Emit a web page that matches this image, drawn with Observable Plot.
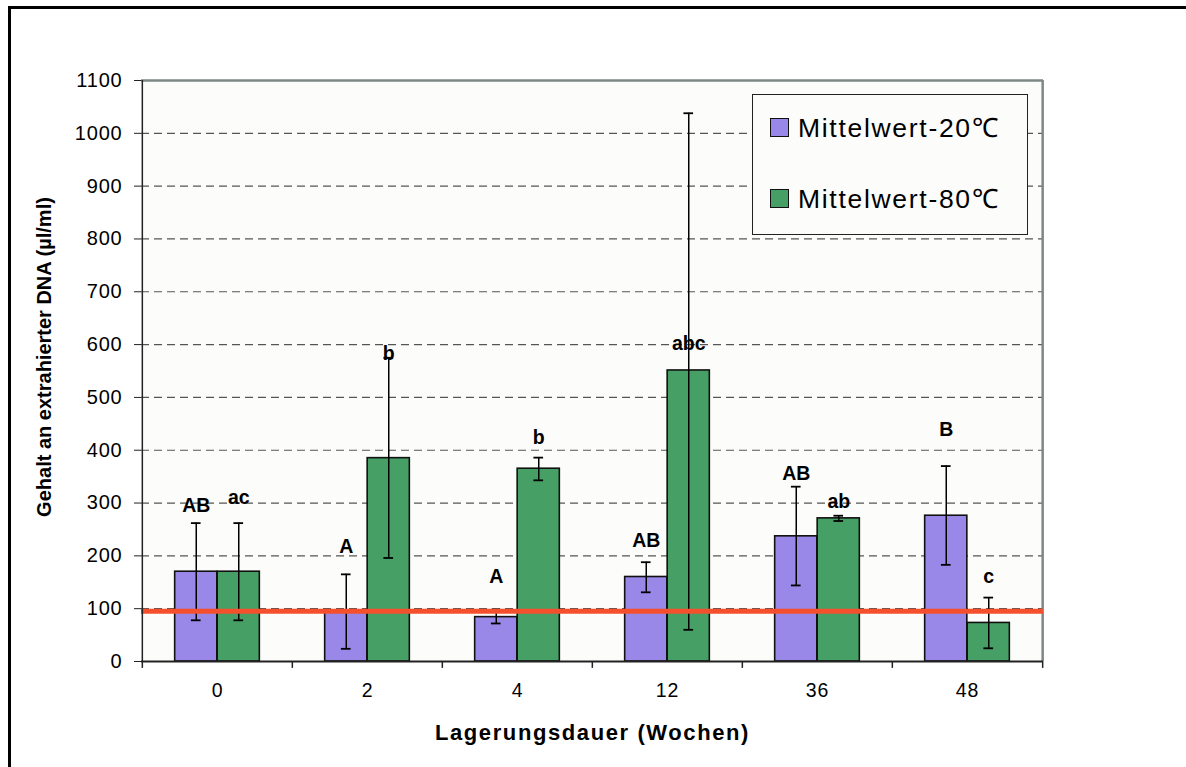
<!DOCTYPE html>
<html><head><meta charset="utf-8">
<script src="https://cdn.jsdelivr.net/npm/d3@7"></script>
<script src="https://cdn.jsdelivr.net/npm/@observablehq/plot@0.6"></script>
<style>
body{margin:0;background:#fff;font-family:"Liberation Sans",Arial,sans-serif}
#wrap{position:relative;width:1186px;height:767px;overflow:hidden}
#chart{position:absolute;left:0;top:0}
#frame{position:absolute;left:8px;top:6px;width:1300px;height:900px;border-left:3px solid #000;border-top:3px solid #000;pointer-events:none}
#legend{position:absolute;left:752px;top:94px;width:274px;height:139px;border:1.3px solid #222;background:#fcfcfa}
.item{position:absolute;left:17px;display:flex;align-items:center;font-family:"Liberation Sans",Arial,sans-serif;font-size:26.5px;letter-spacing:1.7px;color:#000;white-space:nowrap}
.sw{width:17px;height:17px;border:1.5px solid #111;margin-right:9px}
</style></head><body>
<div id="wrap"><div id="chart"></div><div id="frame"></div><div id="legend"></div></div>
<script>
const weeks = ["0", "2", "4", "12", "36", "48"];
const seriesNames = ["Mittelwert-20℃", "Mittelwert-80℃"];
const mean20 = [170, 93, 84, 160, 237, 276];
const low20 = [78, 24, 72, 131, 144, 183];
const high20 = [262, 165, 98, 188, 331, 370];
const mean80 = [170, 385, 365, 551, 271, 73];
const low80 = [78, 196, 343, 60, 266, 25];
const high80 = [262, 575, 386, 1038, 276, 121];
const letters20 = ["AB", "A", "A", "AB", "AB", "B"];
const letters80 = ["ac", "b", "b", "abc", "ab", "c"];
const letterY20 = [295, 218, 161, 229, 356, 439];
const letterY80 = [310, 583, 424, 602, 303, 161];
const threshold = 95;
const yTicks = [0, 100, 200, 300, 400, 500, 600, 700, 800, 900, 1000, 1100];
const colors = ["#9a88e8", "#46a066"];
const yTitle = "Gehalt an extrahierter DNA (µl/ml)";
const xTitle = "Lagerungsdauer (Wochen)";

const rows = weeks.map((w, i) => ({
  week: w, m20: mean20[i], lo20: low20[i], hi20: high20[i],
  m80: mean80[i], lo80: low80[i], hi80: high80[i],
  l20: letters20[i], l80: letters80[i], ly20: letterY20[i], ly80: letterY80[i]
}));

const W = 1186, H = 767, ml = 141, mr = 143, mt = 80, mb = 106;
const bw = (W - ml - mr) / weeks.length;
const barW = 42.5, half = barW / 2, capW = 10;
const bIn = (bw - barW) / 2, cIn = (bw - capW) / 2;

function seriesMarks(k, sign) {
  const m = k ? "m80" : "m20";
  return [
    Plot.barY(rows, {x: "week", y: m, fill: colors[k], stroke: "#111", strokeWidth: 1.6, insetLeft: bIn, insetRight: bIn, dx: sign * half})
  ];
}
function errMarks(k, sign) {
  const lo = k ? "lo80" : "lo20", hi = k ? "hi80" : "hi20";
  return [
    Plot.ruleX(rows, {x: "week", y1: lo, y2: hi, dx: sign * half, stroke: "#000", strokeWidth: 1.5}),
    Plot.tickY(rows, {x: "week", y: lo, dx: sign * half, insetLeft: cIn, insetRight: cIn, stroke: "#000", strokeWidth: 1.8}),
    Plot.tickY(rows, {x: "week", y: hi, dx: sign * half, insetLeft: cIn, insetRight: cIn, stroke: "#000", strokeWidth: 1.8})
  ];
}

const chart = Plot.plot({
  width: W, height: H, marginLeft: ml, marginRight: mr, marginTop: mt, marginBottom: mb,
  style: {fontFamily: "'Liberation Sans', Arial, sans-serif", background: "transparent", color: "#000", overflow: "visible"},
  x: {domain: weeks, padding: 0, label: null},
  y: {domain: [0, 1100], label: null},
  marks: [
    Plot.frame({fill: "#fcfcfa", stroke: null}),
    Plot.ruleY(yTicks.filter(v => v > 0 && v < 1100), {stroke: "#555", strokeDasharray: "8,5", strokeWidth: 1.2}),
    Plot.ruleY([1100], {stroke: "#7d8886", strokeWidth: 2.5}),
    Plot.ruleX([weeks[weeks.length - 1]], {dx: bw / 2, stroke: "#7d8886", strokeWidth: 2.5}),
    ...seriesMarks(0, -1),
    ...seriesMarks(1, 1),
    ...errMarks(0, -1),
    ...errMarks(1, 1),
    Plot.ruleY([threshold], {stroke: "#f4502e", strokeWidth: 5}),
    Plot.ruleX([weeks[0]], {dx: -bw / 2, stroke: "#222", strokeWidth: 1.5}),
    Plot.ruleY([0], {stroke: "#222", strokeWidth: 2}),
    Plot.ruleX(weeks, {x: d => d, dx: -bw / 2, y1: 0, y2: -13, stroke: "#222", strokeWidth: 1.5}),
    Plot.ruleX([weeks[weeks.length - 1]], {dx: bw / 2, y1: 0, y2: -13, stroke: "#222", strokeWidth: 1.5}),
    Plot.axisY({ticks: yTicks, tickFormat: d => String(d), tickSize: 7, tickPadding: 12, fontSize: 20, label: null, stroke: "#222"}),
    Plot.axisX({tickSize: 0, tickPadding: 22, fontSize: 19.5, label: null}),
    Plot.text(rows, {x: "week", y: "ly20", text: "l20", dx: -half, fontWeight: "bold", fontSize: 19.5, lineAnchor: "middle", fill: "#000"}),
    Plot.text(rows, {x: "week", y: "ly80", text: "l80", dx: half, fontWeight: "bold", fontSize: 19.5, lineAnchor: "middle", fill: "#000"}),
    Plot.text([yTitle], {frameAnchor: "left", dx: -97, dy: -14, rotate: -90, textAnchor: "middle", fontWeight: "bold", fontSize: 20, lineAnchor: "middle", fill: "#000"}),
    Plot.text([xTitle], {frameAnchor: "bottom", dy: 71, fontWeight: "bold", fontSize: 22, lineAnchor: "middle", fill: "#000"})
  ]
});
document.getElementById("chart").appendChild(chart);
d3.select(chart).selectAll("text").filter(function() { return this.textContent === xTitle; }).attr("letter-spacing", "1.6px");
d3.select(chart).selectAll("text").filter(function() { return /^\d+$/.test(this.textContent); }).attr("letter-spacing", "0.8px");

const legend = d3.select("#legend");
seriesNames.forEach((name, i) => {
  const it = legend.append("div").attr("class", "item").style("top", (i === 0 ? 14 : 85) + "px");
  it.append("div").attr("class", "sw").style("background", colors[i]);
  it.append("span").text(name);
});
</script>
</body></html>
